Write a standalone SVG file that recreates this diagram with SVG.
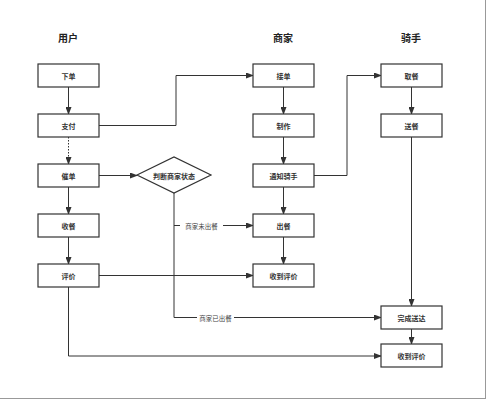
<svg xmlns="http://www.w3.org/2000/svg" width="487" height="400" viewBox="0 0 487 400">
<defs>
<marker id="ah" markerWidth="8" markerHeight="6" refX="7" refY="3" orient="auto" markerUnits="userSpaceOnUse">
<path d="M0,0 L8,3 L0,6 Z" fill="#333"/>
</marker>
<style>
.box{fill:#fff;stroke:#333;stroke-width:1.2}
.t{font-family:"Noto Sans CJK SC","Liberation Sans",sans-serif;font-size:7px;font-weight:bold;fill:#333;text-anchor:middle;dominant-baseline:central}
.h{font-family:"Noto Sans CJK SC","Liberation Sans",sans-serif;font-size:10px;font-weight:bold;fill:#222;text-anchor:middle;dominant-baseline:central}
.c{fill:none;stroke:#333;stroke-width:1}
.a{marker-end:url(#ah)}
.lbl{font-family:"Noto Sans CJK SC","Liberation Sans",sans-serif;font-size:6.5px;fill:#444;text-anchor:middle;dominant-baseline:central}
.lb{fill:#fff}
</style>
</defs>
<rect x="0" y="0" width="487" height="400" fill="#fff"/>
<line x1="485.5" y1="0" x2="485.5" y2="399" stroke="#999" stroke-width="1"/>
<line x1="0" y1="398.5" x2="486" y2="398.5" stroke="#999" stroke-width="1"/>
<g id="titles">
<text class="h" x="68" y="37">用户</text>
<text class="h" x="283" y="37">商家</text>
<text class="h" x="411" y="37">骑手</text>
</g>
<g id="connectors">
<path class="c a" d="M68.5,87 V114"/>
<path class="c a" d="M68.5,137 V164" stroke-dasharray="1.5,1.5"/>
<path class="c a" d="M68.5,187 V214"/>
<path class="c a" d="M68.5,237 V264"/>
<path class="c a" d="M99,125.5 H176 V75.5 H253"/>
<path class="c a" d="M99,175.5 H137"/>
<path class="c a" d="M174,193 V317.5 H381"/>
<path class="c a" d="M174,225.5 H253"/>
<path class="c a" d="M283.5,87 V114"/>
<path class="c a" d="M283.5,137 V164"/>
<path class="c a" d="M283.5,187 V214"/>
<path class="c a" d="M283.5,237 V264"/>
<path class="c a" d="M314,175.5 H347 V75.5 H381"/>
<path class="c a" d="M411.5,87 V114"/>
<path class="c a" d="M411.5,137 V306"/>
<path class="c a" d="M411.5,329 V344"/>
<path class="c a" d="M99,275.5 H253"/>
<path class="c a" d="M68.5,287 V356 H381"/>
<rect class="lb" x="180" y="221.5" width="43" height="8"/>
<text class="lbl" x="201.5" y="225.5">商家未出餐</text>
<rect class="lb" x="197" y="313.5" width="37" height="8"/>
<text class="lbl" x="215.5" y="317.5">商家已出餐</text>
</g>
<g id="n-xiadan"><rect class="box" x="38" y="64" width="61" height="23"/><text class="t" x="68.5" y="75.5">下单</text></g>
<g id="n-zhifu"><rect class="box" x="38" y="114" width="61" height="23"/><text class="t" x="68.5" y="125.5">支付</text></g>
<g id="n-cuidan"><rect class="box" x="38" y="164" width="61" height="23"/><text class="t" x="68.5" y="175.5">催单</text></g>
<g id="n-shoucan"><rect class="box" x="38" y="214" width="61" height="23"/><text class="t" x="68.5" y="225.5">收餐</text></g>
<g id="n-pingjia"><rect class="box" x="38" y="264" width="61" height="23"/><text class="t" x="68.5" y="275.5">评价</text></g>
<g id="n-decide"><polygon class="box" points="137,175 174,157 211,175 174,193"/><text class="t" x="174" y="175.5">判断商家状态</text></g>
<g id="n-jiedan"><rect class="box" x="253" y="64" width="61" height="23"/><text class="t" x="283.5" y="75.5">接单</text></g>
<g id="n-zhizuo"><rect class="box" x="253" y="114" width="61" height="23"/><text class="t" x="283.5" y="125.5">制作</text></g>
<g id="n-tongzhi"><rect class="box" x="253" y="164" width="61" height="23"/><text class="t" x="283.5" y="175.5">通知骑手</text></g>
<g id="n-chucan"><rect class="box" x="253" y="214" width="61" height="23"/><text class="t" x="283.5" y="225.5">出餐</text></g>
<g id="n-shoudao1"><rect class="box" x="253" y="264" width="61" height="23"/><text class="t" x="283.5" y="275.5">收到评价</text></g>
<g id="n-qucan"><rect class="box" x="381" y="64" width="61" height="23"/><text class="t" x="411.5" y="75.5">取餐</text></g>
<g id="n-songcan"><rect class="box" x="381" y="114" width="61" height="23"/><text class="t" x="411.5" y="125.5">送餐</text></g>
<g id="n-wancheng"><rect class="box" x="381" y="306" width="61" height="23"/><text class="t" x="411.5" y="317.5">完成送达</text></g>
<g id="n-shoudao2"><rect class="box" x="381" y="344" width="61" height="23"/><text class="t" x="411.5" y="355.5">收到评价</text></g>
</svg>
